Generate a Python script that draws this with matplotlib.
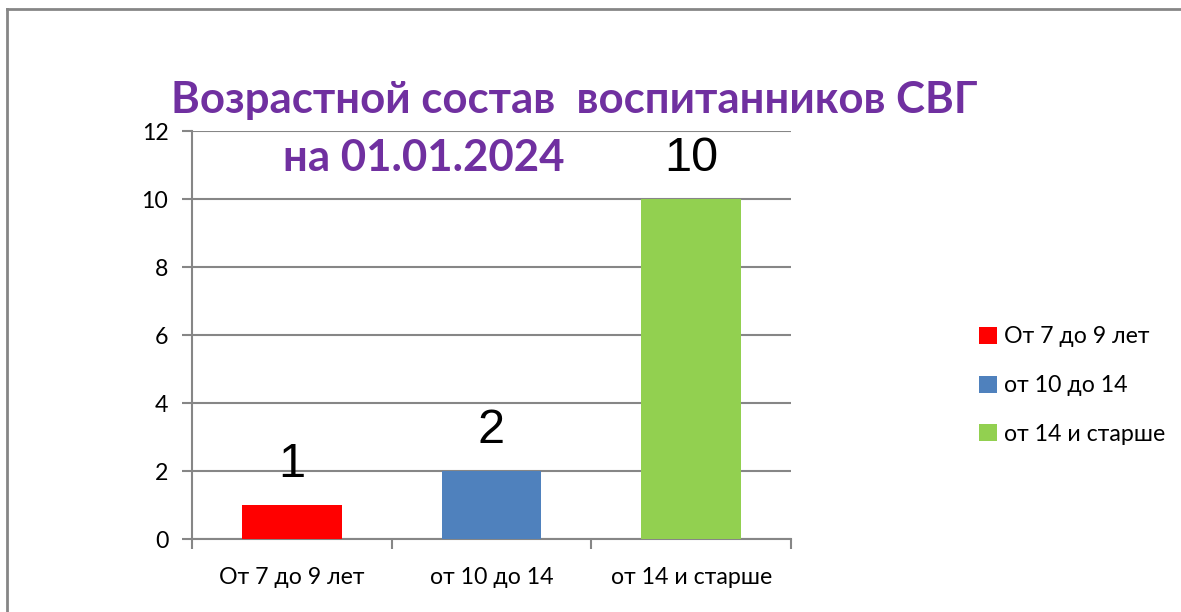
import matplotlib
matplotlib.use('Agg')
import matplotlib.pyplot as plt
from matplotlib.patches import Patch
from matplotlib.lines import Line2D

categories = ['От 7 до 9 лет', 'от 10 до 14', 'от 14 и старше']
values = [1, 2, 10]
colors = ['#FF0000', '#4F81BD', '#92D050']
yticks = [0, 2, 4, 6, 8, 10, 12]

gray = '#868686'
plt.rcParams['font.family'] = ['Lato', 'DejaVu Sans']

fig = plt.figure(figsize=(11.81, 6.12), dpi=100)
ax = fig.add_axes([192/1181, 1-539/612, (791-192)/1181, (539-131)/612])

x = list(range(len(categories)))
bars = ax.bar(x, values, width=0.5, color=colors, zorder=3)

ax.set_xlim(-0.5, len(categories) - 0.5)
ax.set_ylim(0, 12)
ax.set_yticks(yticks)
ax.grid(axis='y', color=gray, linewidth=1.5, zorder=0)

# category boundaries as major ticks, labels on minor ticks
ax.set_xticks([i - 0.5 for i in range(len(categories) + 1)])
ax.set_xticklabels([])
ax.set_xticks(x, minor=True)
ax.set_xticklabels(categories, minor=True)
ax.tick_params(axis='x', which='minor', length=0, pad=20, labelsize=16.7)
ax.tick_params(axis='x', which='major', length=7, width=1.5, color=gray, direction='out')
ax.tick_params(axis='y', length=7, width=1.5, color=gray, direction='out', labelsize=16.7, pad=10)

for s in ['top', 'right']:
    ax.spines[s].set_visible(False)
for s in ['left', 'bottom']:
    ax.spines[s].set_color(gray)
    ax.spines[s].set_linewidth(1.5)

for b, v in zip(bars, values):
    ax.annotate(str(v), (b.get_x() + b.get_width()/2, v), xytext=(0, 13),
                textcoords='offset points', ha='center', va='bottom',
                fontsize=35, family='Liberation Sans')

# title
fig.text(574/1181, 1-113/612, 'Возрастной состав  воспитанников СВГ', ha='center',
         va='baseline', color='#7030A0', fontsize=31.5, fontweight='bold')
fig.text(424/1181, 1-171/612, 'на 01.01.2024', ha='center',
         va='baseline', color='#7030A0', fontsize=31.5, fontweight='bold')

handles = [Patch(facecolor=c, edgecolor='none') for c in colors]
fig.legend(handles, categories, loc='upper left', bbox_to_anchor=(970/1181, 1-317/612),
           frameon=False, fontsize=16.7, handlelength=0.75, handleheight=0.75,
           handletextpad=0.3, labelspacing=1.2, borderaxespad=0)

# outer frame (left and top edges)
fig.add_artist(Line2D([7/1181, 7/1181], [0, 1-9/612], color=gray, linewidth=2,
                      transform=fig.transFigure))
fig.add_artist(Line2D([7/1181, 1], [1-9/612, 1-9/612], color=gray, linewidth=2,
                      transform=fig.transFigure))

fig.savefig('out.png', dpi=100)
